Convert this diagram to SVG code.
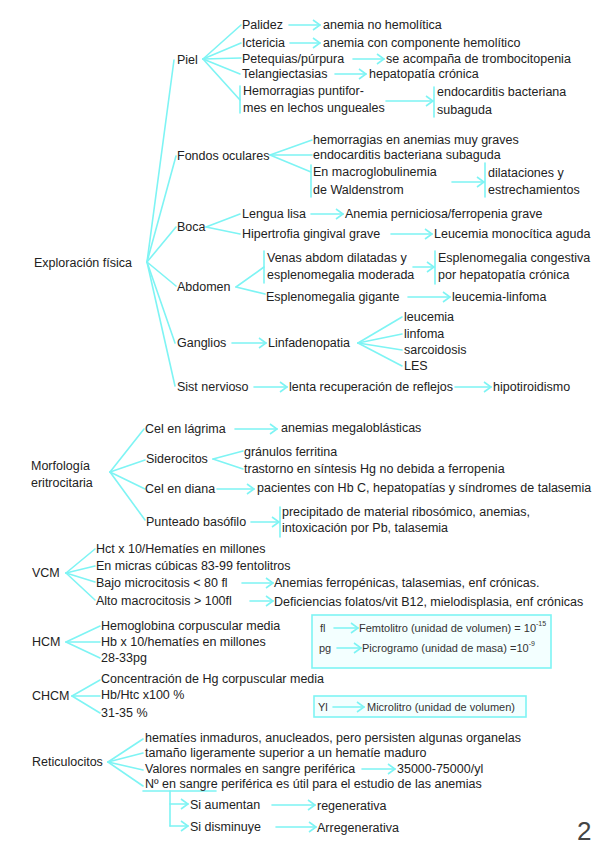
<svg xmlns="http://www.w3.org/2000/svg" width="599" height="848" viewBox="0 0 599 848">
<style>
.t{font-family:"Liberation Sans",Arial,sans-serif;font-size:12.5px;fill:#222}
.c{stroke:#7ef4f4;stroke-width:1.6;fill:none;stroke-linecap:round}
.ar{marker-end:url(#arr)}
.bx{font-family:"Liberation Sans",Arial,sans-serif;font-size:11px;fill:#333}
.sup{font-size:7px}
.box{fill:#f3ffff;stroke:#7ef4f4;stroke-width:1.6}
</style>
<defs>
<marker id="arr" markerUnits="userSpaceOnUse" markerWidth="9" markerHeight="12" refX="8" refY="6" orient="auto">
<path d="M1,1 L8,6 L1,11" fill="none" stroke="#7ef4f4" stroke-width="1.6"/>
</marker>
</defs>
<rect width="599" height="848" fill="#fff"/>

<g id="connectors">
<line class="c" x1="147" y1="262" x2="174" y2="60"/>
<line class="c" x1="147" y1="262" x2="176" y2="156"/>
<line class="c" x1="147" y1="262" x2="176" y2="227"/>
<line class="c" x1="147" y1="262" x2="176" y2="286"/>
<line class="c" x1="147" y1="262" x2="175" y2="343"/>
<line class="c" x1="147" y1="262" x2="175" y2="386"/>
<line class="c" x1="203" y1="59" x2="241" y2="25"/>
<line class="c" x1="203" y1="59" x2="241" y2="43"/>
<line class="c" x1="203" y1="59" x2="241" y2="58"/>
<line class="c" x1="203" y1="59" x2="240" y2="74"/>
<line class="c" x1="203" y1="59" x2="240" y2="100"/>
<line class="c" x1="240" y1="86" x2="240" y2="113"/>
<line class="c ar" x1="289" y1="25" x2="320" y2="25"/>
<line class="c ar" x1="290" y1="43" x2="320" y2="43"/>
<line class="c ar" x1="353" y1="59" x2="384" y2="59"/>
<line class="c ar" x1="335" y1="74" x2="366" y2="74"/>
<line class="c ar" x1="386" y1="101" x2="433" y2="101"/>
<line class="c" x1="434" y1="87" x2="434" y2="117"/>
<line class="c" x1="270" y1="155" x2="312" y2="140"/>
<line class="c" x1="270" y1="155" x2="312" y2="155"/>
<line class="c" x1="270" y1="155" x2="311" y2="172"/>
<line class="c" x1="311" y1="165" x2="311" y2="197"/>
<line class="c ar" x1="452" y1="182" x2="484" y2="182"/>
<line class="c" x1="485" y1="163" x2="485" y2="197"/>
<line class="c" x1="206" y1="227" x2="240" y2="214"/>
<line class="c" x1="206" y1="227" x2="240" y2="234"/>
<line class="c ar" x1="311" y1="214" x2="343" y2="214"/>
<line class="c ar" x1="391" y1="234" x2="432" y2="234"/>
<line class="c" x1="236" y1="287" x2="264" y2="267"/>
<line class="c" x1="236" y1="287" x2="265" y2="294"/>
<line class="c" x1="264" y1="251" x2="264" y2="283"/>
<line class="c ar" x1="413" y1="267" x2="434" y2="267"/>
<line class="c" x1="435" y1="251" x2="435" y2="284"/>
<line class="c ar" x1="408" y1="297" x2="450" y2="297"/>
<line class="c ar" x1="232" y1="343" x2="266" y2="343"/>
<line class="c" x1="358" y1="343" x2="402" y2="317"/>
<line class="c" x1="358" y1="343" x2="402" y2="334"/>
<line class="c" x1="358" y1="343" x2="402" y2="350"/>
<line class="c" x1="358" y1="343" x2="402" y2="366"/>
<line class="c ar" x1="254" y1="387" x2="287" y2="387"/>
<line class="c ar" x1="455" y1="387" x2="491" y2="387"/>
<line class="c" x1="110" y1="472" x2="144" y2="429"/>
<line class="c" x1="110" y1="472" x2="145" y2="460"/>
<line class="c" x1="110" y1="472" x2="145" y2="489"/>
<line class="c" x1="110" y1="472" x2="145" y2="520"/>
<line class="c ar" x1="235" y1="429" x2="277" y2="429"/>
<line class="c" x1="213" y1="459" x2="243" y2="451"/>
<line class="c" x1="213" y1="459" x2="243" y2="469"/>
<line class="c ar" x1="217" y1="489" x2="254" y2="489"/>
<line class="c ar" x1="251" y1="522" x2="279" y2="522"/>
<line class="c" x1="280" y1="507" x2="280" y2="537"/>
<line class="c" x1="66" y1="573" x2="95" y2="549"/>
<line class="c" x1="66" y1="573" x2="95" y2="566"/>
<line class="c" x1="66" y1="573" x2="95" y2="582"/>
<line class="c" x1="66" y1="573" x2="95" y2="600"/>
<line class="c ar" x1="242" y1="583" x2="273" y2="583"/>
<line class="c ar" x1="250" y1="601" x2="273" y2="601"/>
<line class="c" x1="66" y1="642" x2="100" y2="626"/>
<line class="c" x1="66" y1="642" x2="100" y2="642"/>
<line class="c" x1="66" y1="642" x2="100" y2="658"/>
<line class="c" x1="72" y1="696" x2="100" y2="680"/>
<line class="c" x1="72" y1="696" x2="100" y2="696"/>
<line class="c" x1="72" y1="696" x2="100" y2="713"/>
<line class="c" x1="108" y1="762" x2="143" y2="739"/>
<line class="c" x1="108" y1="762" x2="143" y2="753"/>
<line class="c" x1="108" y1="762" x2="143" y2="770"/>
<line class="c" x1="108" y1="762" x2="143" y2="786"/>
<line class="c ar" x1="362" y1="769" x2="395" y2="769"/>
<line class="c" x1="143" y1="791" x2="216" y2="791"/>
<line class="c" x1="170" y1="791" x2="170" y2="826"/>
<line class="c ar" x1="170" y1="804" x2="188" y2="804"/>
<line class="c ar" x1="170" y1="826" x2="188" y2="826"/>
<line class="c ar" x1="272" y1="805" x2="315" y2="805"/>
<line class="c ar" x1="276" y1="827" x2="316" y2="827"/>
</g>

<g id="exploracion"><text class="t" x="34" y="267">Exploración física</text></g>
<g id="piel"><text class="t" x="177" y="64">Piel</text></g>
<g id="palidez"><text class="t" x="242" y="29">Palidez</text></g>
<g id="anemia-no-hemolitica"><text class="t" x="323" y="29">anemia no hemolítica</text></g>
<g id="ictericia"><text class="t" x="242" y="47">Ictericia</text></g>
<g id="anemia-hemolitico"><text class="t" x="323" y="47">anemia con componente hemolítico</text></g>
<g id="petequias"><text class="t" x="242" y="63">Petequias/púrpura</text></g>
<g id="trombocitopenia"><text class="t" x="386" y="63">se acompaña de trombocitopenia</text></g>
<g id="telangiectasias"><text class="t" x="242" y="78">Telangiectasias</text></g>
<g id="hepatopatia"><text class="t" x="369" y="78">hepatopatía crónica</text></g>
<g id="hemorragias"><text class="t" x="243" y="95">Hemorragias puntifor-</text><text class="t" x="243" y="112">mes en lechos ungueales</text></g>
<g id="endocarditis1"><text class="t" x="437" y="96">endocarditis bacteriana</text><text class="t" x="437" y="114">subaguda</text></g>

<g id="fondos"><text class="t" x="177" y="160">Fondos oculares</text></g>
<g id="hemorragias-anemias"><text class="t" x="313" y="144">hemorragias en anemias muy graves</text></g>
<g id="endocarditis2"><text class="t" x="313" y="159">endocarditis bacteriana subaguda</text></g>
<g id="macroglobulinemia"><text class="t" x="313" y="176">En macroglobulinemia</text><text class="t" x="313" y="194">de Waldenstrom</text></g>
<g id="dilataciones"><text class="t" x="488" y="177">dilataciones y</text><text class="t" x="488" y="194">estrechamientos</text></g>

<g id="boca"><text class="t" x="177" y="231">Boca</text></g>
<g id="lengua"><text class="t" x="242" y="218">Lengua lisa</text></g>
<g id="anemia-perniciosa"><text class="t" x="345" y="218">Anemia perniciosa/ferropenia grave</text></g>
<g id="hipertrofia"><text class="t" x="242" y="238">Hipertrofia gingival grave</text></g>
<g id="leucemia-monocitica"><text class="t" x="434" y="238">Leucemia monocítica aguda</text></g>

<g id="abdomen"><text class="t" x="177" y="291">Abdomen</text></g>
<g id="venas"><text class="t" x="267" y="262">Venas abdom dilatadas y</text><text class="t" x="267" y="279">esplenomegalia moderada</text></g>
<g id="congestiva"><text class="t" x="438" y="262">Esplenomegalia congestiva</text><text class="t" x="438" y="279">por hepatopatía crónica</text></g>
<g id="gigante"><text class="t" x="266" y="301">Esplenomegalia gigante</text></g>
<g id="leucemia-linfoma"><text class="t" x="452" y="301">leucemia-linfoma</text></g>

<g id="ganglios"><text class="t" x="177" y="347">Ganglios</text></g>
<g id="linfadenopatia"><text class="t" x="268" y="347">Linfadenopatia</text></g>
<g id="leucemia"><text class="t" x="404" y="321">leucemia</text></g>
<g id="linfoma"><text class="t" x="404" y="338">linfoma</text></g>
<g id="sarcoidosis"><text class="t" x="404" y="354">sarcoidosis</text></g>
<g id="les"><text class="t" x="404" y="370">LES</text></g>

<g id="sist-nervioso"><text class="t" x="177" y="391">Sist nervioso</text></g>
<g id="lenta"><text class="t" x="289" y="391">lenta recuperación de reflejos</text></g>
<g id="hipotiroidismo"><text class="t" x="493" y="391">hipotiroidismo</text></g>

<g id="morfologia"><text class="t" x="31" y="470">Morfología</text><text class="t" x="31" y="487">eritrocitaria</text></g>
<g id="lagrima"><text class="t" x="145" y="433">Cel en lágrima</text></g>
<g id="megaloblasticas"><text class="t" x="281" y="432">anemias megaloblásticas</text></g>
<g id="siderocitos"><text class="t" x="146" y="463">Siderocitos</text></g>
<g id="granulos"><text class="t" x="244" y="456">gránulos ferritina</text></g>
<g id="trastorno"><text class="t" x="244" y="473">trastorno en síntesis Hg no debida a ferropenia</text></g>
<g id="diana"><text class="t" x="145" y="493">Cel en diana</text></g>
<g id="pacientes"><text class="t" x="257" y="492">pacientes con Hb C, hepatopatías y síndromes de talasemia</text></g>
<g id="punteado"><text class="t" x="146" y="526">Punteado basófilo</text></g>
<g id="precipitado"><text class="t" x="282" y="516">precipitado de material ribosómico, anemias,</text><text class="t" x="282" y="532">intoxicación por Pb, talasemia</text></g>

<g id="vcm"><text class="t" x="32" y="577">VCM</text></g>
<g id="hct"><text class="t" x="96" y="553">Hct x 10/Hematíes en millones</text></g>
<g id="micras"><text class="t" x="96" y="570">En micras cúbicas 83-99 fentolitros</text></g>
<g id="bajo"><text class="t" x="96" y="587">Bajo microcitosis &lt; 80 fl</text></g>
<g id="anemias-ferro"><text class="t" x="274" y="587">Anemias ferropénicas, talasemias, enf crónicas.</text></g>
<g id="alto"><text class="t" x="96" y="605">Alto macrocitosis &gt; 100fl</text></g>
<g id="deficiencias"><text class="t" x="274" y="606">Deficiencias folatos/vit B12, mielodisplasia, enf crónicas</text></g>

<g id="hcm"><text class="t" x="32" y="646">HCM</text></g>
<g id="hemoglobina"><text class="t" x="101" y="630">Hemoglobina corpuscular media</text></g>
<g id="hb"><text class="t" x="101" y="646">Hb x 10/hematíes en millones</text></g>
<g id="pg2833"><text class="t" x="101" y="662">28-33pg</text></g>

<g id="chcm"><text class="t" x="32" y="700">CHCM</text></g>
<g id="concentracion"><text class="t" x="101" y="683">Concentración de Hg corpuscular media</text></g>
<g id="hbhtc"><text class="t" x="101" y="699">Hb/Htc x100 %</text></g>
<g id="p3135"><text class="t" x="101" y="717">31-35 %</text></g>

<g id="box-units">
<rect class="box" x="312" y="615" width="239" height="53"/>
<text class="bx" x="320" y="632">fl</text>
<line class="c ar" x1="334" y1="628" x2="358" y2="628"/>
<text class="bx" x="359" y="632">Femtolitro (unidad de volumen) = 10<tspan class="sup" dy="-6">-15</tspan></text>
<text class="bx" x="319" y="652">pg</text>
<line class="c ar" x1="337" y1="648" x2="361" y2="648"/>
<text class="bx" x="362" y="652">Picrogramo (unidad de masa) =10<tspan class="sup" dy="-6">-9</tspan></text>
</g>
<g id="box-microlitro">
<rect class="box" x="314" y="696" width="212" height="21"/>
<text class="bx" x="318" y="711">Yl</text>
<line class="c ar" x1="333" y1="707" x2="364" y2="707"/>
<text class="bx" x="367" y="711">Microlitro (unidad de volumen)</text>
</g>

<g id="reticulocitos"><text class="t" x="32" y="766">Reticulocitos</text></g>
<g id="inmaduros"><text class="t" x="145" y="742">hematíes inmaduros, anucleados, pero persisten algunas organelas</text></g>
<g id="tamano"><text class="t" x="145" y="757">tamaño ligeramente superior a un hematíe maduro</text></g>
<g id="valores"><text class="t" x="145" y="773">Valores normales en sangre periférica</text></g>
<g id="rango"><text class="t" x="397" y="773">35000-75000/yl</text></g>
<g id="numero"><text class="t" x="145" y="788">Nº en sangre periférica es útil para el estudio de las anemias</text></g>
<g id="aumentan"><text class="t" x="190" y="809">Si aumentan</text></g>
<g id="regenerativa"><text class="t" x="317" y="810">regenerativa</text></g>
<g id="disminuye"><text class="t" x="190" y="831">Si disminuye</text></g>
<g id="arregenerativa"><text class="t" x="317" y="832">Arregenerativa</text></g>

<g id="page"><text x="577" y="840" font-family="'Liberation Sans',Arial,sans-serif" font-size="26" fill="#444">2</text></g>
</svg>
